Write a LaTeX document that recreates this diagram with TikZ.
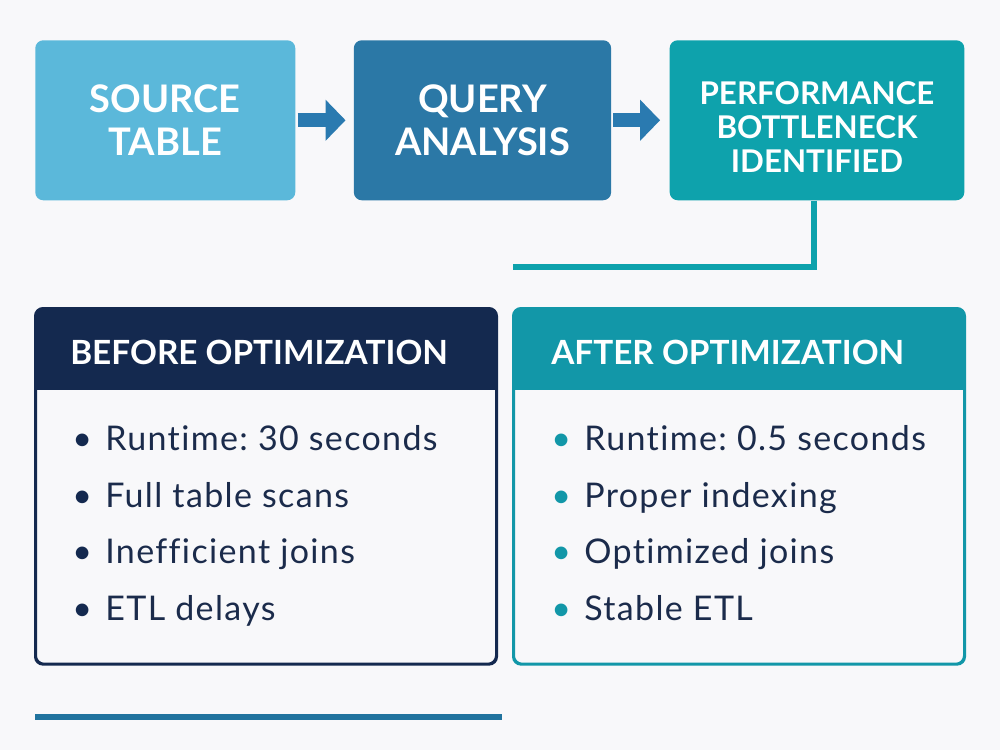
\documentclass[tikz,border=0pt]{standalone}
\usepackage{fontspec}
\setmainfont{Lato}
\newfontfamily\itemfont{Lato}[LetterSpace=4, Ligatures=NoCommon]
\usetikzlibrary{arrows.meta,positioning}

\definecolor{srcblue}{HTML}{5BB8DA}
\definecolor{qryblue}{HTML}{2B78A6}
\definecolor{perfteal}{HTML}{0EA2AC}
\definecolor{navy}{HTML}{14294F}
\definecolor{afterteal}{HTML}{1297A8}
\definecolor{arrowblue}{HTML}{2A7AB0}
\definecolor{ruleblue}{HTML}{21739E}
\definecolor{inkblue}{HTML}{1B2B4B}
\definecolor{paper}{HTML}{F8F8FA}

\frenchspacing
\begin{document}
\begin{tikzpicture}[
   x=0.75pt, y=-0.75pt,
   node distance=43.5pt,
   stage/.style={rounded corners=6pt, minimum height=120pt, text=white,
                 align=center, inner sep=0pt,
                 font=\bfseries\fontsize{28.5}{32.5}\selectfont},
   panel/.style={draw, line width=1.5pt, rounded corners=6pt, anchor=north west,
                 minimum width=345pt, minimum height=266pt, inner sep=0pt},
   heading/.style={anchor=west, text=white, inner sep=0pt,
                   font=\bfseries\fontsize{25}{28}\selectfont},
   point/.style={anchor=west, text=inkblue, minimum height=42pt, inner sep=0pt,
                 text height=18pt, text depth=5pt,
                 font=\itemfont\fontsize{25.5}{28}\selectfont},
   >={Triangle[length=15pt, width=30pt]}]
  % page
  \fill[paper] (0,0) rectangle (1000,750);
  \useasboundingbox (0,0) rectangle (1000,750);

  % top row
  \node[stage, fill=srcblue, anchor=north west, minimum width=195pt]
    (source) at (35,40) {SOURCE\\TABLE};
  \node[stage, fill=qryblue, right=of source, minimum width=193pt]
    (query) {QUERY\\ANALYSIS};
  \node[stage, fill=perfteal, right=of query, minimum width=221pt,
        font=\bfseries\fontsize{23.5}{25.5}\selectfont]
    (perf) {\rule{0pt}{28pt}PERFORMANCE\\BOTTLENECK\\IDENTIFIED};
  \draw[->, arrowblue, line width=10.5pt, shorten <=1.5pt, shorten >=6pt]
    (source) -- (query);
  \draw[->, arrowblue, line width=10.5pt, shorten <=1.5pt, shorten >=7pt]
    (query) -- (perf);

  % link down to the panels
  \coordinate (link) at (513,267);
  \draw[perfteal, line width=4.5pt] ([xshift=-2.5pt]perf.south) |- (link);

  % before panel
  \node[panel, draw=navy] (before) at (35,308) {};
  \begin{scope}
    \clip[rounded corners=6pt] (before.north west) rectangle (before.south east);
    \fill[navy] (before.north west) rectangle ([yshift=-61.5pt]before.north east);
  \end{scope}
  \draw[navy, line width=1.5pt, rounded corners=6pt]
    (before.north west) rectangle (before.south east);
  \node[heading] (beforehead) at (70,352) {BEFORE OPTIMIZATION};
  \node[point] (b1) at (72,442)
    {\textcolor{navy}{\textbullet}\hspace{10pt}Runtime: 30 seconds};
  \node[point, below=0pt of b1.south west, anchor=north west] (b2)
    {\textcolor{navy}{\textbullet}\hspace{10pt}Full table scans};
  \node[point, below=0pt of b2.south west, anchor=north west] (b3)
    {\textcolor{navy}{\textbullet}\hspace{10pt}Inefficient joins};
  \node[point, below=0pt of b3.south west, anchor=north west] (b4)
    {\textcolor{navy}{\textbullet}\hspace{10pt}ETL delays};

  % after panel
  \node[panel, draw=afterteal, minimum width=337.5pt] (after) at (513,308) {};
  \begin{scope}
    \clip[rounded corners=6pt] (after.north west) rectangle (after.south east);
    \fill[afterteal] (after.north west) rectangle ([yshift=-61.5pt]after.north east);
  \end{scope}
  \draw[afterteal, line width=1.5pt, rounded corners=6pt]
    (after.north west) rectangle (after.south east);
  \node[heading] (afterhead) at (551,352) {AFTER OPTIMIZATION};
  \node[point] (a1) at (551,442)
    {\textcolor{afterteal}{\textbullet}\hspace{10pt}Runtime: 0.5 seconds};
  \node[point, below=0pt of a1.south west, anchor=north west] (a2)
    {\textcolor{afterteal}{\textbullet}\hspace{10pt}Proper indexing};
  \node[point, below=0pt of a2.south west, anchor=north west] (a3)
    {\textcolor{afterteal}{\textbullet}\hspace{10pt}Optimized joins};
  \node[point, below=0pt of a3.south west, anchor=north west] (a4)
    {\textcolor{afterteal}{\textbullet}\hspace{10pt}Stable ETL};

  % footer rule
  \coordinate (rulestart) at (35,717);
  \coordinate (ruleend) at (502,717);
  \draw[ruleblue, line width=4.5pt] (rulestart) -- (ruleend);
\end{tikzpicture}
\end{document}
